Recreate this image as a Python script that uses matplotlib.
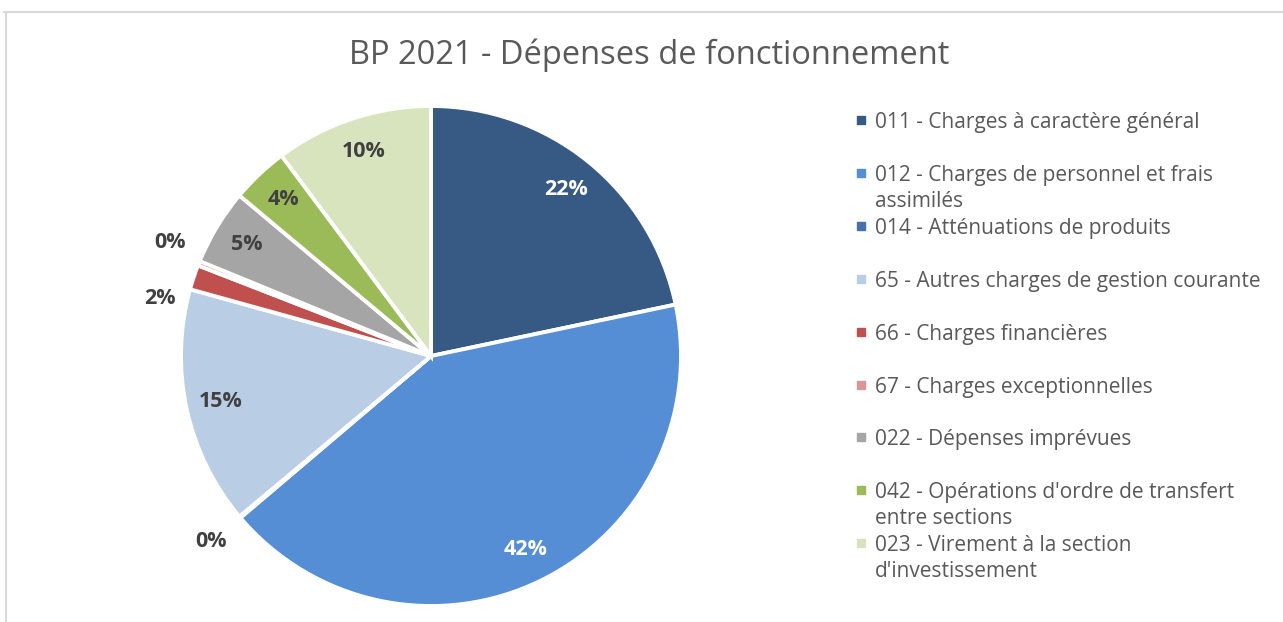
import numpy as np
import matplotlib.pyplot as plt

# données
categories = ["011 - Charges à caractère général",
              "012 - Charges de personnel et frais\nassimilés",
              "014 - Atténuations de produits",
              "65 - Autres charges de gestion courante",
              "66 - Charges financières",
              "67 - Charges exceptionnelles",
              "022 - Dépenses imprévues",
              "042 - Opérations d'ordre de transfert\nentre sections",
              "023 - Virement à la section\nd'investissement"]
values = [21.7, 42.1, 0.1, 15.4, 1.6, 0.3, 4.9, 3.7, 10.2]
colors = ['#375A84', '#558ED5', '#4672A8', '#B9CDE5', '#C0504D',
          '#D99694', '#A5A5A5', '#9BBB59', '#D7E4BD']

W, H = 1283, 622
fig = plt.figure(figsize=(W/100, H/100), dpi=100)
plt.rcParams['font.family'] = ['Open Sans', 'DejaVu Sans']

# cadre gris clair
fig.add_artist(plt.Line2D([4/W, 1], [1-12/H, 1-12/H], color='#D9D9D9', lw=1.5))
fig.add_artist(plt.Line2D([6/W, 6/W], [0, 1-12/H], color='#D9D9D9', lw=1.5))

fig.text(649/W, 1-55/H, "BP 2021 - Dépenses de fonctionnement",
         ha='center', va='center', fontsize=23.5, color='#595959')

# camembert
cx, cy, r = 431, 356, 250
ax = fig.add_axes([(cx-r)/W, (H-cy-r)/H, 2*r/W, 2*r/H])
wedges, _ = ax.pie(values, colors=colors, startangle=90, counterclock=False,
                   radius=1, wedgeprops=dict(edgecolor='white', linewidth=2.8))
ax.set_xlim(-1, 1)
ax.set_ylim(-1, 1)
ax.axis('off')

# étiquettes de pourcentage
total = sum(values)
nudge = {4: (6.4, 1.11), 5: (-1.7, 1.14), 2: (0, 1.15)}
for i, (w, v) in enumerate(zip(wedges, values)):
    pct = 100 * v / total
    dang, dist = nudge.get(i, (0, 0.86))
    ang = (w.theta1 + w.theta2) / 2 + dang
    x, y = dist*np.cos(np.radians(ang)), dist*np.sin(np.radians(ang))
    col = 'white' if i in (0, 1) else '#404040'
    ax.text(x, y, f"{pct:.0f}%", ha='center', va='center', fontsize=15.5,
            fontweight='bold', color=col, clip_on=False)

# légende manuelle
for i, (lab, c) in enumerate(zip(categories, colors)):
    y = 120 + i*52.9
    fig.patches.append(plt.Rectangle((857/W, 1-(y+4)/H), 8/W, 8/H,
                                     transform=fig.transFigure, color=c))
    fig.text(875/W, 1-(y-8)/H, lab, ha='left', va='top', fontsize=15,
             color='#595959', linespacing=1.3)

fig.savefig('out.png', dpi=100)
